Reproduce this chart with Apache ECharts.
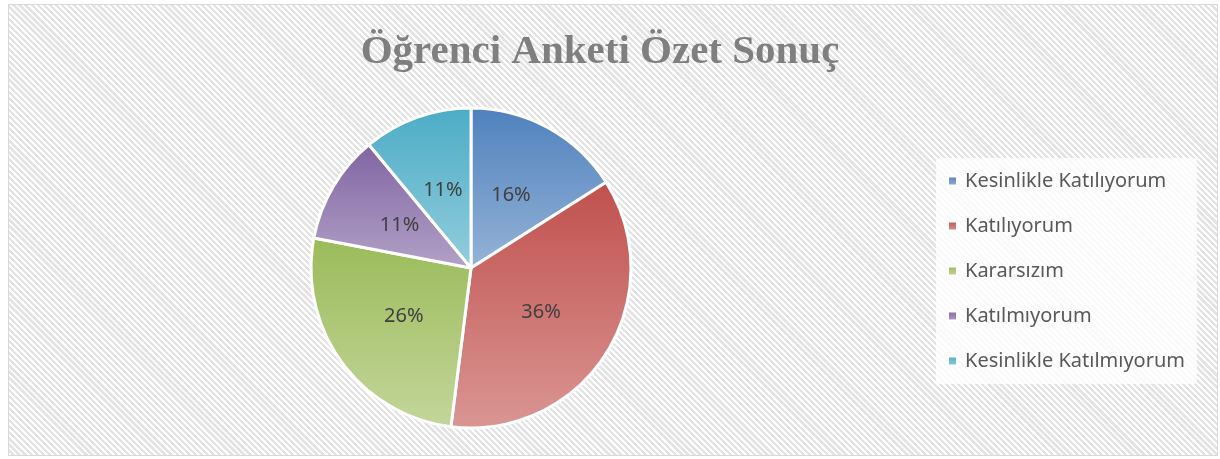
<!DOCTYPE html>
<html>
<head>
<meta charset="utf-8">
<script src="https://cdn.jsdelivr.net/npm/echarts@6/dist/echarts.min.js"></script>
<style>
  body { margin: 0; background: #fff; }
  .wrap { position: relative; width: 1220px; height: 459px; }
  .frame {
    position: absolute; left: 8px; top: 4px; width: 1208px; height: 450px;
    border: 1px solid #d9d9d9;
    background: repeating-linear-gradient(45deg, #ffffff 0 2px, #e4e4e4 2px 4.3px);
  }
  #main { position: absolute; left: 0; top: 0; width: 1220px; height: 459px; }
</style>
</head>
<body>
<div class="wrap">
  <div class="frame"></div>
  <div id="main"></div>
</div>
<script>
// anket sonuçları (%)
var categories = ['Kesinlikle Katılıyorum', 'Katılıyorum', 'Kararsızım', 'Katılmıyorum', 'Kesinlikle Katılmıyorum']
var values = [16, 36, 26, 11, 11]
var topColors = ['#4F81BD', '#C0504D', '#9BBB59', '#8064A2', '#4BACC6']
var bottomColors = ['#95B3D7', '#DA9694', '#C3D69B', '#B3A2C7', '#93CDDD']

var myChart = echarts.init(document.getElementById('main'))

var pieData = categories.map(function (name, i) {
  return {
    name: name,
    value: values[i],
    itemStyle: {
      color: new echarts.graphic.LinearGradient(0, 0, 0, 1, [
        { offset: 0, color: topColors[i] },
        { offset: 1, color: bottomColors[i] },
      ]),
    },
  }
})

var option = {
  backgroundColor: 'transparent',
  animation: false,
  title: {
    text: 'Öğrenci Anketi Özet Sonuç',
    left: 595,
    top: 27,
    textAlign: 'center',
    textStyle: {
      fontFamily: 'Liberation Serif',
      fontWeight: 'bold',
      fontSize: 41,
      color: '#7f7f7f',
    },
  },
  legend: {
    orient: 'vertical',
    left: 936,
    top: 158,
    backgroundColor: 'rgba(255,255,255,0.8)',
    padding: [13, 12, 13, 11],
    itemGap: 25,
    itemWidth: 9,
    itemHeight: 9,
    icon: 'rect',
    textStyle: {
      fontFamily: 'Noto Sans',
      fontSize: 20,
      color: '#595959',
      padding: [0, 0, 0, 3],
    },
    data: categories,
  },
  series: [
    {
      type: 'pie',
      center: [471, 268],
      radius: 160,
      startAngle: 90,
      clockwise: true,
      itemStyle: {
        borderColor: '#ffffff',
        borderWidth: 3,
      },
      label: {
        position: 'inside',
        formatter: '{d}%',
        fontFamily: 'Noto Sans',
        fontSize: 20,
        color: '#404040',
      },
      labelLine: { show: false },
      emphasis: { disabled: true },
      data: pieData,
    },
  ],
}

myChart.setOption(option)
</script>
</body>
</html>
